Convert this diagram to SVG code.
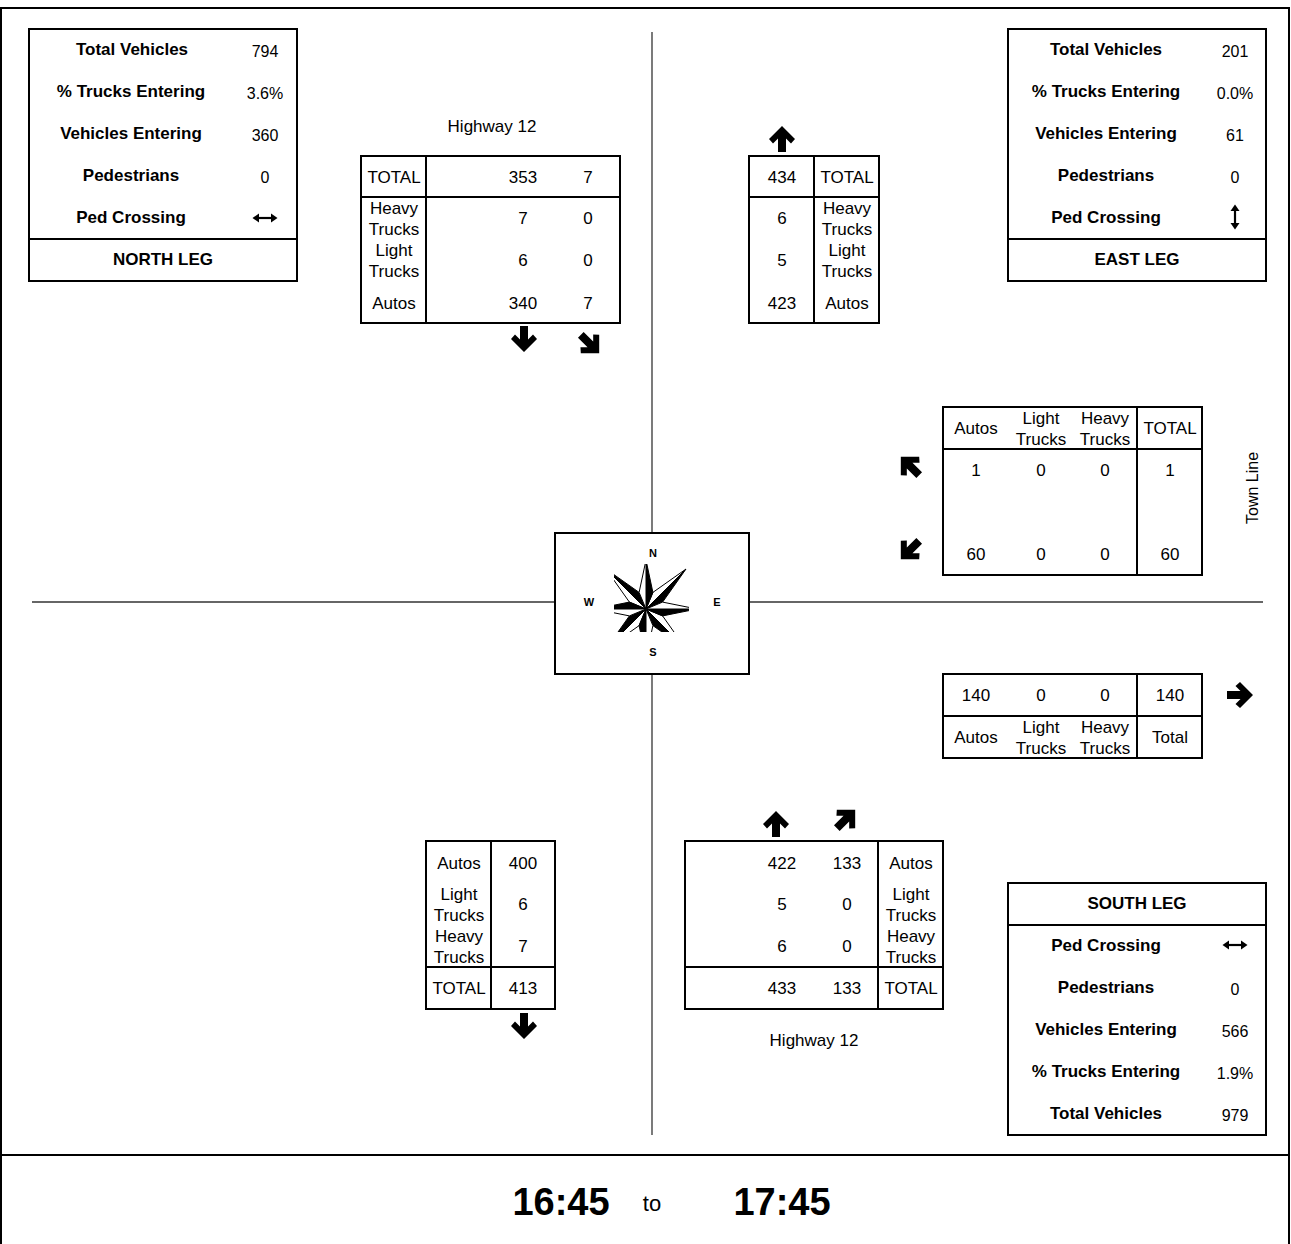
<svg xmlns="http://www.w3.org/2000/svg" xmlns:xlink="http://www.w3.org/1999/xlink" width="1291" height="1244" viewBox="0 0 1291 1244">
<style>
.t{font-family:"Liberation Sans",Arial,sans-serif;font-size:17px;text-anchor:middle;fill:#000}
.v{font-size:16px}
.b{font-weight:bold}
.big{font-size:38px}
.to{font-size:22px}
.box{fill:#fff;stroke:#000;stroke-width:2}
.ln{stroke:#000;stroke-width:2;fill:none}
.road{stroke:#333;stroke-width:1.3;fill:none}
.cl{font-family:"Liberation Sans",Arial,sans-serif;font-size:11px;font-weight:bold;text-anchor:middle}
</style>
<defs>
<path id="arr" d="M0,-13 L13,0 L9,4.5 L4,-0.5 L4,13 L-4,13 L-4,-0.5 L-9,4.5 L-13,0 Z" fill="#000"/>
<g id="dblh">
<line x1="-8" y1="0" x2="8" y2="0" stroke="#000" stroke-width="2.2"/>
<polygon points="-12.5,0 -6,-4.5 -6,4.5" fill="#000"/>
<polygon points="12.5,0 6,-4.5 6,4.5" fill="#000"/>
</g>
<clipPath id="cc"><rect x="614" y="564" width="75" height="68"/></clipPath>
</defs>
<rect width="1291" height="1244" fill="#fff"/>
<rect x="1" y="8" width="1288" height="1260" fill="none" stroke="#000" stroke-width="2"/>
<line x1="1" y1="1155" x2="1290" y2="1155" class="ln"/>

<g id="connectors">
<line x1="652" y1="32" x2="652" y2="533" class="road"/>
<line x1="652" y1="674" x2="652" y2="1135" class="road"/>
<line x1="32" y1="602" x2="555" y2="602" class="road"/>
<line x1="749" y1="602" x2="1263" y2="602" class="road"/>
</g>

<g id="compass">
<rect x="555" y="533" width="194" height="141" class="box"/>
<text class="cl" x="653" y="557">N</text>
<text class="cl" x="589" y="606">W</text>
<text class="cl" x="717" y="606">E</text>
<text class="cl" x="653" y="656">S</text>
<g clip-path="url(#cc)" stroke="#000" stroke-width="1">
<polygon points="646,609 686,569 662.6,602.1" fill="#000"/>
<polygon points="646,609 686,569 652.9,592.4" fill="#fff"/>
<polygon points="646,609 686,649 652.9,625.6" fill="#000"/>
<polygon points="646,609 686,649 662.6,615.9" fill="#fff"/>
<polygon points="646,609 606,649 629.4,615.9" fill="#000"/>
<polygon points="646,609 606,649 639.1,625.6" fill="#fff"/>
<polygon points="646,609 606,569 639.1,592.4" fill="#000"/>
<polygon points="646,609 606,569 629.4,602.1" fill="#fff"/>
<polygon points="646,609 646,560 652.9,592.4" fill="#000"/>
<polygon points="646,609 646,560 639.1,592.4" fill="#fff"/>
<polygon points="646,609 697,609 662.6,615.9" fill="#000"/>
<polygon points="646,609 697,609 662.6,602.1" fill="#fff"/>
<polygon points="646,609 646,658 639.1,625.6" fill="#000"/>
<polygon points="646,609 646,658 652.9,625.6" fill="#fff"/>
<polygon points="646,609 595,609 629.4,602.1" fill="#000"/>
<polygon points="646,609 595,609 629.4,615.9" fill="#fff"/>
</g>
</g>

<g id="north-leg">
<rect x="29" y="29" width="268" height="252" class="box"/>
<line x1="29" y1="239" x2="297" y2="239" class="ln"/>
<text class="t b" x="132" y="55">Total Vehicles</text><text class="t v" x="265" y="57">794</text>
<text class="t b" x="131" y="97">% Trucks Entering</text><text class="t v" x="265" y="99">3.6%</text>
<text class="t b" x="131" y="139">Vehicles Entering</text><text class="t v" x="265" y="141">360</text>
<text class="t b" x="131" y="181">Pedestrians</text><text class="t v" x="265" y="183">0</text>
<text class="t b" x="131" y="223">Ped Crossing</text><use href="#dblh" transform="translate(265,218)"/>
<text class="t b" x="163" y="265">NORTH LEG</text>
</g>

<g id="east-leg">
<rect x="1008" y="29" width="258" height="252" class="box"/>
<line x1="1008" y1="239" x2="1266" y2="239" class="ln"/>
<text class="t b" x="1106" y="55">Total Vehicles</text><text class="t v" x="1235" y="57">201</text>
<text class="t b" x="1106" y="97">% Trucks Entering</text><text class="t v" x="1235" y="99">0.0%</text>
<text class="t b" x="1106" y="139">Vehicles Entering</text><text class="t v" x="1235" y="141">61</text>
<text class="t b" x="1106" y="181">Pedestrians</text><text class="t v" x="1235" y="183">0</text>
<text class="t b" x="1106" y="223">Ped Crossing</text><use href="#dblh" transform="translate(1235,217) rotate(90)"/>
<text class="t b" x="1137" y="265">EAST LEG</text>
</g>

<g id="south-leg">
<rect x="1008" y="883" width="258" height="252" class="box"/>
<line x1="1008" y1="925" x2="1266" y2="925" class="ln"/>
<text class="t b" x="1137" y="909">SOUTH LEG</text>
<text class="t b" x="1106" y="951">Ped Crossing</text><use href="#dblh" transform="translate(1235,945)"/>
<text class="t b" x="1106" y="993">Pedestrians</text><text class="t v" x="1235" y="995">0</text>
<text class="t b" x="1106" y="1035">Vehicles Entering</text><text class="t v" x="1235" y="1037">566</text>
<text class="t b" x="1106" y="1077">% Trucks Entering</text><text class="t v" x="1235" y="1079">1.9%</text>
<text class="t b" x="1106" y="1119">Total Vehicles</text><text class="t v" x="1235" y="1121">979</text>
</g>

<g id="north-approach">
<text class="t" x="492" y="132">Highway 12</text>
<rect x="361" y="156" width="259" height="167" class="box"/>
<line x1="426" y1="156" x2="426" y2="323" class="ln"/>
<line x1="361" y1="197" x2="620" y2="197" class="ln"/>
<text class="t" x="394" y="183">TOTAL</text><text class="t" x="523" y="183">353</text><text class="t" x="588" y="183">7</text>
<text class="t" x="394" y="214">Heavy</text><text class="t" x="394" y="235">Trucks</text><text class="t" x="523" y="224">7</text><text class="t" x="588" y="224">0</text>
<text class="t" x="394" y="256">Light</text><text class="t" x="394" y="277">Trucks</text><text class="t" x="523" y="266">6</text><text class="t" x="588" y="266">0</text>
<text class="t" x="394" y="309">Autos</text><text class="t" x="523" y="309">340</text><text class="t" x="588" y="309">7</text>
<use href="#arr" transform="translate(524,339) rotate(180)"/>
<use href="#arr" transform="translate(590,344) rotate(135)"/>
</g>

<g id="north-exit">
<use href="#arr" transform="translate(782,139)"/>
<rect x="749" y="156" width="130" height="167" class="box"/>
<line x1="814" y1="156" x2="814" y2="323" class="ln"/>
<line x1="749" y1="197" x2="879" y2="197" class="ln"/>
<text class="t" x="782" y="183">434</text><text class="t" x="847" y="183">TOTAL</text>
<text class="t" x="782" y="224">6</text><text class="t" x="847" y="214">Heavy</text><text class="t" x="847" y="235">Trucks</text>
<text class="t" x="782" y="266">5</text><text class="t" x="847" y="256">Light</text><text class="t" x="847" y="277">Trucks</text>
<text class="t" x="782" y="309">423</text><text class="t" x="847" y="309">Autos</text>
</g>

<g id="east-approach">
<rect x="943" y="407" width="259" height="168" class="box"/>
<line x1="1137" y1="407" x2="1137" y2="575" class="ln"/>
<line x1="943" y1="449" x2="1202" y2="449" class="ln"/>
<text class="t" x="976" y="434">Autos</text>
<text class="t" x="1041" y="424">Light</text><text class="t" x="1041" y="445">Trucks</text>
<text class="t" x="1105" y="424">Heavy</text><text class="t" x="1105" y="445">Trucks</text>
<text class="t" x="1170" y="434">TOTAL</text>
<text class="t" x="976" y="476">1</text><text class="t" x="1041" y="476">0</text><text class="t" x="1105" y="476">0</text><text class="t" x="1170" y="476">1</text>
<text class="t" x="976" y="560">60</text><text class="t" x="1041" y="560">0</text><text class="t" x="1105" y="560">0</text><text class="t" x="1170" y="560">60</text>
<use href="#arr" transform="translate(910,466) rotate(-45)"/>
<use href="#arr" transform="translate(910,550) rotate(-135)"/>
<text class="t v" transform="translate(1258,488) rotate(-90)">Town Line</text>
</g>

<g id="east-exit">
<rect x="943" y="674" width="259" height="84" class="box"/>
<line x1="1137" y1="674" x2="1137" y2="758" class="ln"/>
<line x1="943" y1="716" x2="1202" y2="716" class="ln"/>
<text class="t" x="976" y="701">140</text><text class="t" x="1041" y="701">0</text><text class="t" x="1105" y="701">0</text><text class="t" x="1170" y="701">140</text>
<text class="t" x="976" y="743">Autos</text>
<text class="t" x="1041" y="733">Light</text><text class="t" x="1041" y="754">Trucks</text>
<text class="t" x="1105" y="733">Heavy</text><text class="t" x="1105" y="754">Trucks</text>
<text class="t" x="1170" y="743">Total</text>
<use href="#arr" transform="translate(1240,695) rotate(90)"/>
</g>

<g id="south-exit">
<rect x="426" y="841" width="129" height="168" class="box"/>
<line x1="491" y1="841" x2="491" y2="1009" class="ln"/>
<line x1="426" y1="967" x2="555" y2="967" class="ln"/>
<text class="t" x="459" y="869">Autos</text><text class="t" x="523" y="869">400</text>
<text class="t" x="459" y="900">Light</text><text class="t" x="459" y="921">Trucks</text><text class="t" x="523" y="910">6</text>
<text class="t" x="459" y="942">Heavy</text><text class="t" x="459" y="963">Trucks</text><text class="t" x="523" y="952">7</text>
<text class="t" x="459" y="994">TOTAL</text><text class="t" x="523" y="994">413</text>
<use href="#arr" transform="translate(524,1026) rotate(180)"/>
</g>

<g id="south-approach">
<use href="#arr" transform="translate(776,824)"/>
<use href="#arr" transform="translate(846,819) rotate(45)"/>
<rect x="685" y="841" width="258" height="168" class="box"/>
<line x1="878" y1="841" x2="878" y2="1009" class="ln"/>
<line x1="685" y1="967" x2="943" y2="967" class="ln"/>
<text class="t" x="782" y="869">422</text><text class="t" x="847" y="869">133</text><text class="t" x="911" y="869">Autos</text>
<text class="t" x="782" y="910">5</text><text class="t" x="847" y="910">0</text><text class="t" x="911" y="900">Light</text><text class="t" x="911" y="921">Trucks</text>
<text class="t" x="782" y="952">6</text><text class="t" x="847" y="952">0</text><text class="t" x="911" y="942">Heavy</text><text class="t" x="911" y="963">Trucks</text>
<text class="t" x="782" y="994">433</text><text class="t" x="847" y="994">133</text><text class="t" x="911" y="994">TOTAL</text>
<text class="t" x="814" y="1046">Highway 12</text>
</g>

<g id="footer">
<text class="t b big" x="561" y="1215">16:45</text>
<text class="t to" x="652" y="1211">to</text>
<text class="t b big" x="782" y="1215">17:45</text>
</g>
</svg>
